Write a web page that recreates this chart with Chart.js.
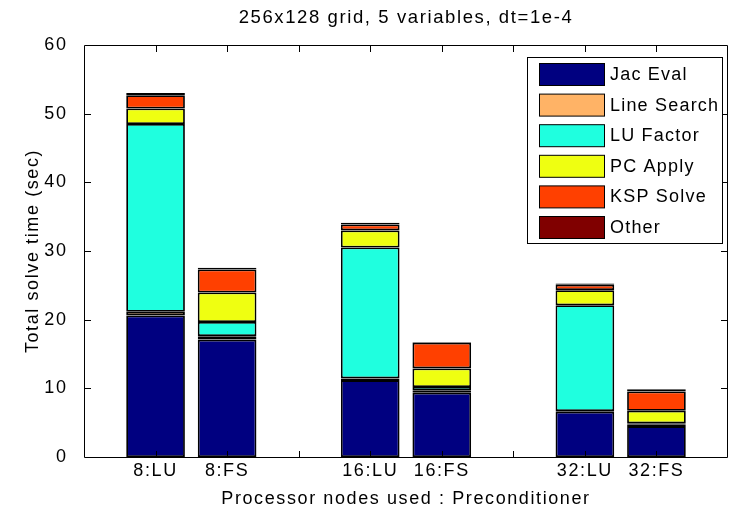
<!DOCTYPE html>
<html>
<head>
<meta charset="utf-8">
<script src="https://cdn.jsdelivr.net/npm/chart.js@4.4.1/dist/chart.umd.min.js"></script>
<style>
body { margin: 0; background: #fff; }
#c { display: block; }
</style>
</head>
<body>
<canvas id="c" width="735" height="512"></canvas>
<script>
// categories (blank slots are the gaps between node counts)
var labels = ['', '8:LU', '8:FS', '', '16:LU', '16:FS', '', '32:LU', '32:FS', ''];

// seconds per phase
var jacEval    = [null, 20.6, 17.1, null, 11.2, 9.35, null, 6.6, 4.5, null];
var lineSearch = [null, 0.55, 0.5, null, 0.25, 0.3, null, 0.1, 0.2, null];
var luFactor   = [null, 27.35, 2.05, null, 19.05, 0.55, null, 15.4, 0.2, null];
var pcApply    = [null, 2.25, 4.3, null, 2.5, 2.7, null, 2.2, 1.83, null];
var kspSolve   = [null, 1.95, 3.35, null, 0.85, 3.76, null, 0.8, 2.82, null];
var other      = [null, 0.3, 0.25, null, 0.25, 0.1, null, 0.15, 0.3, null];

var seriesNames  = ['Jac Eval', 'Line Search', 'LU Factor', 'PC Apply', 'KSP Solve', 'Other'];
var seriesColors = ['#000080', '#ffb366', '#1fffdf', '#efff11', '#ff4000', '#800000'];
var yTicks = [0, 10, 20, 30, 40, 50, 60];

var FONT = '"Liberation Sans", Arial, sans-serif';
var SPACING = '1.6px';

var seriesData = [jacEval, lineSearch, luFactor, pcApply, kspSolve, other];
var datasets = seriesNames.map(function (name, i) {
    return {
        label: name,
        data: seriesData[i],
        backgroundColor: seriesColors[i],
        borderColor: '#000',
        borderWidth: 1.8,
        borderSkipped: false,
        barPercentage: 0.82,
        categoryPercentage: 1.0
    };
});

// matlab style box, inward ticks and legend
var matlabAxes = {
    id: 'matlabAxes',
    beforeUpdate: function (chart) { chart.ctx.letterSpacing = SPACING; },
    beforeDraw: function (chart) { chart.ctx.letterSpacing = SPACING; },
    afterDatasetsDraw: function (chart) {
        var ctx = chart.ctx, a = chart.chartArea;
        var xs = chart.scales.x, ys = chart.scales.y;
        var L = Math.round(a.left) + 0.5, R = Math.round(a.right) - 0.5;
        var T = Math.round(a.top) + 0.5, B = Math.round(a.bottom) + 0.5;
        var tick = 6.5;
        ctx.save();
        ctx.strokeStyle = '#000';
        ctx.lineWidth = 1;
        ctx.beginPath();
        ctx.rect(L, T, R - L, B - T);
        // x ticks, bottom and top
        for (var i = 1; i < labels.length - 1; i++) {
            var px = Math.round(xs.getPixelForValue(i)) + 0.5;
            ctx.moveTo(px, B); ctx.lineTo(px, B - tick);
            ctx.moveTo(px, T); ctx.lineTo(px, T + tick);
        }
        // y ticks, left and right
        yTicks.forEach(function (v) {
            if (v === yTicks[0] || v === yTicks[yTicks.length - 1]) return;
            var py = Math.round(ys.getPixelForValue(v)) + 0.5;
            ctx.moveTo(L, py); ctx.lineTo(L + tick, py);
            ctx.moveTo(R, py); ctx.lineTo(R - tick, py);
        });
        ctx.stroke();
        ctx.restore();
    },
    afterDraw: function (chart) {
        var ctx = chart.ctx;
        var bx = 527.5, by = 57.5, bw = 195, bh = 186;
        ctx.save();
        ctx.letterSpacing = '1.2px';
        ctx.fillStyle = '#fff';
        ctx.fillRect(bx, by, bw, bh);
        ctx.strokeStyle = '#000';
        ctx.lineWidth = 1;
        ctx.strokeRect(bx, by, bw, bh);
        ctx.font = '18px ' + FONT;
        ctx.textBaseline = 'middle';
        ctx.textAlign = 'left';
        chart.data.datasets.forEach(function (ds, i) {
            var top = 63 + i * 30.6;
            ctx.fillStyle = ds.backgroundColor;
            ctx.fillRect(539.5, top + 0.5, 65, 22);
            ctx.strokeRect(539.5, top + 0.5, 65, 22);
            ctx.fillStyle = '#000';
            ctx.fillText(ds.label, 610, top + 12);
        });
        ctx.restore();
    }
};

var ctx = document.getElementById('c').getContext('2d');
var chart = new Chart(ctx, {
    type: 'bar',
    data: { labels: labels, datasets: datasets },
    plugins: [matlabAxes],
    options: {
        responsive: false,
        animation: false,
        layout: { padding: { left: 0, right: 7, top: 0, bottom: 0 } },
        plugins: {
            legend: { display: false },
            tooltip: { enabled: false },
            title: {
                display: true,
                text: '256x128 grid, 5 variables, dt=1e-4',
                color: '#000',
                fullSize: false,
                font: { family: FONT, size: 18.5, weight: 'normal' },
                padding: { top: 7, bottom: 15.8 }
            }
        },
        scales: {
            x: {
                type: 'category',
                stacked: true,
                offset: false,
                grid: { display: false, drawTicks: false },
                border: { display: false },
                ticks: {
                    autoSkip: false,
                    maxRotation: 0,
                    padding: 3,
                    color: '#000',
                    font: { family: FONT, size: 18 }
                },
                title: {
                    display: true,
                    text: 'Processor nodes used : Preconditioner',
                    color: '#000',
                    font: { family: FONT, size: 18 },
                    padding: { top: 0, bottom: 2.5 }
                },
                afterFit: function (s) { s.height = 55; }
            },
            y: {
                stacked: true,
                min: 0,
                max: 60,
                grid: { display: false, drawTicks: false },
                border: { display: false },
                afterBuildTicks: function (s) {
                    s.ticks = yTicks.map(function (v) { return { value: v }; });
                },
                ticks: {
                    padding: 16.5,
                    color: '#000',
                    font: { family: FONT, size: 18 }
                },
                title: {
                    display: true,
                    text: 'Total solve time (sec)',
                    color: '#000',
                    font: { family: FONT, size: 18 },
                    padding: { top: 22, bottom: 0 }
                },
                afterFit: function (s) { s.width = 84; }
            }
        }
    }
});
</script>
</body>
</html>
